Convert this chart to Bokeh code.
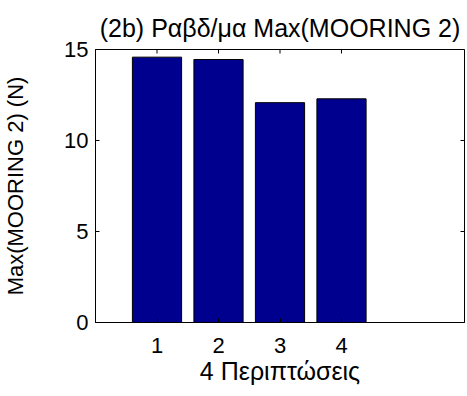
import math
from bokeh.plotting import figure
from bokeh.models import LinearAxis, FixedTicker, Range1d
from bokeh.embed import file_html
from bokeh.resources import INLINE

cases = [1, 2, 3, 4]
max_mooring2 = [14.58, 14.45, 12.08, 12.29]
x_ticks = [1, 2, 3, 4]
y_ticks = [0, 5, 10, 15]
x_lim = (0, 6)
y_lim = (0, 15)

title_text = "(2b) Ραβδ/μα Max(MOORING 2)"
xlabel = "4 Περιπτώσεις"
ylabel = "Max(MOORING 2) (N)"

FONT = "Liberation Sans"
BAR_COLOR = "#00008F"

p = figure(width=467, height=396, output_backend="svg", toolbar_location=None,
           x_range=Range1d(*x_lim), y_range=Range1d(*y_lim),
           x_axis_location=None, y_axis_location=None,
           min_border_left=93, min_border_right=3, min_border_top=49, min_border_bottom=74)
p.background_fill_color = "white"
p.border_fill_color = "white"
p.outline_line_color = "black"
p.outline_line_width = 1
p.xgrid.visible = False
p.ygrid.visible = False

p.title.text = title_text
p.title.align = "center"
p.title.text_font = FONT
p.title.text_font_size = "25px"
p.title.text_font_style = "normal"
p.title.text_color = "black"
p.title.standoff = 16

p.vbar(x=cases, top=max_mooring2, width=0.8, fill_color=BAR_COLOR,
       line_color="black", line_width=1)

# inward ticks on the top and right edges of the box (clipped to the frame)
p.scatter(x=x_ticks, y=[y_lim[1]] * len(x_ticks), marker="dash", angle=math.pi / 2,
          size=8, line_color="black", line_width=1)
p.scatter(x=[x_lim[1]] * len(y_ticks), y=y_ticks, marker="dash",
          size=8, line_color="black", line_width=1)

def style(ax):
    ax.axis_line_color = "black"
    ax.axis_line_width = 1
    ax.major_tick_in = 4
    ax.major_tick_out = 0
    ax.minor_tick_line_color = None
    ax.major_tick_line_color = "black"
    ax.major_label_text_font = FONT
    ax.major_label_text_font_size = "22px"
    ax.major_label_text_color = "black"
    ax.axis_label_text_font = FONT
    ax.axis_label_text_font_size = "22px"
    ax.axis_label_text_font_style = "normal"
    ax.axis_label_text_color = "black"

bottom = LinearAxis(ticker=FixedTicker(ticks=x_ticks), axis_label=xlabel)
style(bottom)
bottom.axis_label_text_font_size = "25px"
bottom.major_label_standoff = 15
bottom.axis_label_standoff = 1
p.add_layout(bottom, "below")

left = LinearAxis(ticker=FixedTicker(ticks=y_ticks), axis_label=ylabel)
style(left)
left.axis_label_text_font_size = "22px"
left.major_label_standoff = 7
left.axis_label_standoff = 33
try:
    left.axis_label_align = "right"
except Exception:
    pass
p.add_layout(left, "left")

open("out.html", "w").write(file_html(p, INLINE))
